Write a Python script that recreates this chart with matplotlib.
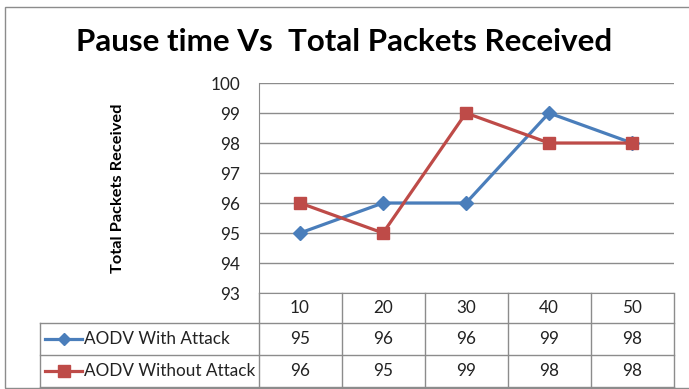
import matplotlib.pyplot as plt
from matplotlib.lines import Line2D
from matplotlib.patches import Rectangle

plt.rcParams['font.family'] = ['Lato', 'DejaVu Sans']

# data
pause_time = [10, 20, 30, 40, 50]
with_attack = [95, 96, 96, 99, 98]
without_attack = [96, 95, 99, 98, 98]
series_names = ['AODV With Attack', 'AODV Without Attack']
y_ticks = [93, 94, 95, 96, 97, 98, 99, 100]

blue = '#4A7EBB'
red = '#BE4B48'
grid_col = '#8C8C8C'
txt = '#222222'
fs = 12.3

W, H = 689, 389
fig = plt.figure(figsize=(W / 100, H / 100), dpi=100)


def fx(x):
    return x / W


def fy(y):
    return 1 - y / H


# outer chart frame
fig.add_artist(Rectangle((fx(5), fy(388)), fx(700) - fx(5), fy(7) - fy(388),
                         transform=fig.transFigure, fill=False,
                         edgecolor='#8C8C8C', lw=1))

left, right, top, bottom = 258.5, 673.5, 83, 293
ax = fig.add_axes([fx(left), fy(bottom), fx(right) - fx(left), fy(top) - fy(bottom)])

n = len(pause_time)
xs = list(range(n))
ax.plot(xs, with_attack, color=blue, lw=2.3, marker='D', markersize=7,
        label=series_names[0])
ax.plot(xs, without_attack, color=red, lw=2.3, marker='s', markersize=9,
        label=series_names[1])

ax.set_xlim(-0.5, n - 0.5)
ax.set_ylim(93, 100)
ax.set_yticks(y_ticks)
ax.tick_params(axis='y', length=0, pad=13, labelsize=fs, labelcolor=txt)
ax.set_xticks([])
ax.grid(axis='y', color=grid_col, lw=1)
ax.set_axisbelow(True)
for s in ['top', 'right']:
    ax.spines[s].set_visible(False)
ax.spines['left'].set_color(grid_col)
ax.spines['bottom'].set_color(grid_col)

ax.set_ylabel('Total Packets Received', fontsize=11.8, fontweight='bold', labelpad=62)

fig.text(0.5, fy(42), 'Pause time Vs  Total Packets Received', ha='center',
         va='center', fontsize=22.5, fontweight='bold')

# data table below the plot
row_y = [293, 323, 355, 387]
cell_w = (right - left) / n
tbl_left = 40


def hline(x0, x1, y):
    fig.add_artist(Line2D([fx(x0), fx(x1)], [fy(y), fy(y)], transform=fig.transFigure,
                          color=grid_col, lw=1))


def vline(x, y0, y1):
    fig.add_artist(Line2D([fx(x), fx(x)], [fy(y0), fy(y1)], transform=fig.transFigure,
                          color=grid_col, lw=1))


for y in row_y[1:]:
    hline(tbl_left, right, y)
vline(tbl_left, row_y[1], row_y[3])
vline(left, row_y[0], row_y[3])
for i in range(1, n + 1):
    vline(left + i * cell_w, row_y[0], row_y[3])

for i, t in enumerate(pause_time):
    cx = left + (i + 0.5) * cell_w
    fig.text(fx(cx), fy(308), str(t), ha='center', va='center', fontsize=fs, color=txt)
    fig.text(fx(cx), fy(339), str(with_attack[i]), ha='center', va='center', fontsize=fs, color=txt)
    fig.text(fx(cx), fy(371), str(without_attack[i]), ha='center', va='center', fontsize=fs, color=txt)

# legend keys inside the table
fig.add_artist(Line2D([fx(45), fx(82)], [fy(339), fy(339)], transform=fig.transFigure,
                      color=blue, lw=2.3))
fig.add_artist(Line2D([fx(63.5)], [fy(339)], transform=fig.transFigure, color=blue,
                      marker='D', markersize=6))
fig.add_artist(Line2D([fx(45), fx(82)], [fy(371), fy(371)], transform=fig.transFigure,
                      color=red, lw=2.3))
fig.add_artist(Line2D([fx(63.5)], [fy(371)], transform=fig.transFigure, color=red,
                      marker='s', markersize=8))
fig.text(fx(84), fy(339), series_names[0], ha='left', va='center', fontsize=fs, color=txt)
fig.text(fx(84), fy(371), series_names[1], ha='left', va='center', fontsize=fs, color=txt)

fig.savefig('out.png', dpi=100)
